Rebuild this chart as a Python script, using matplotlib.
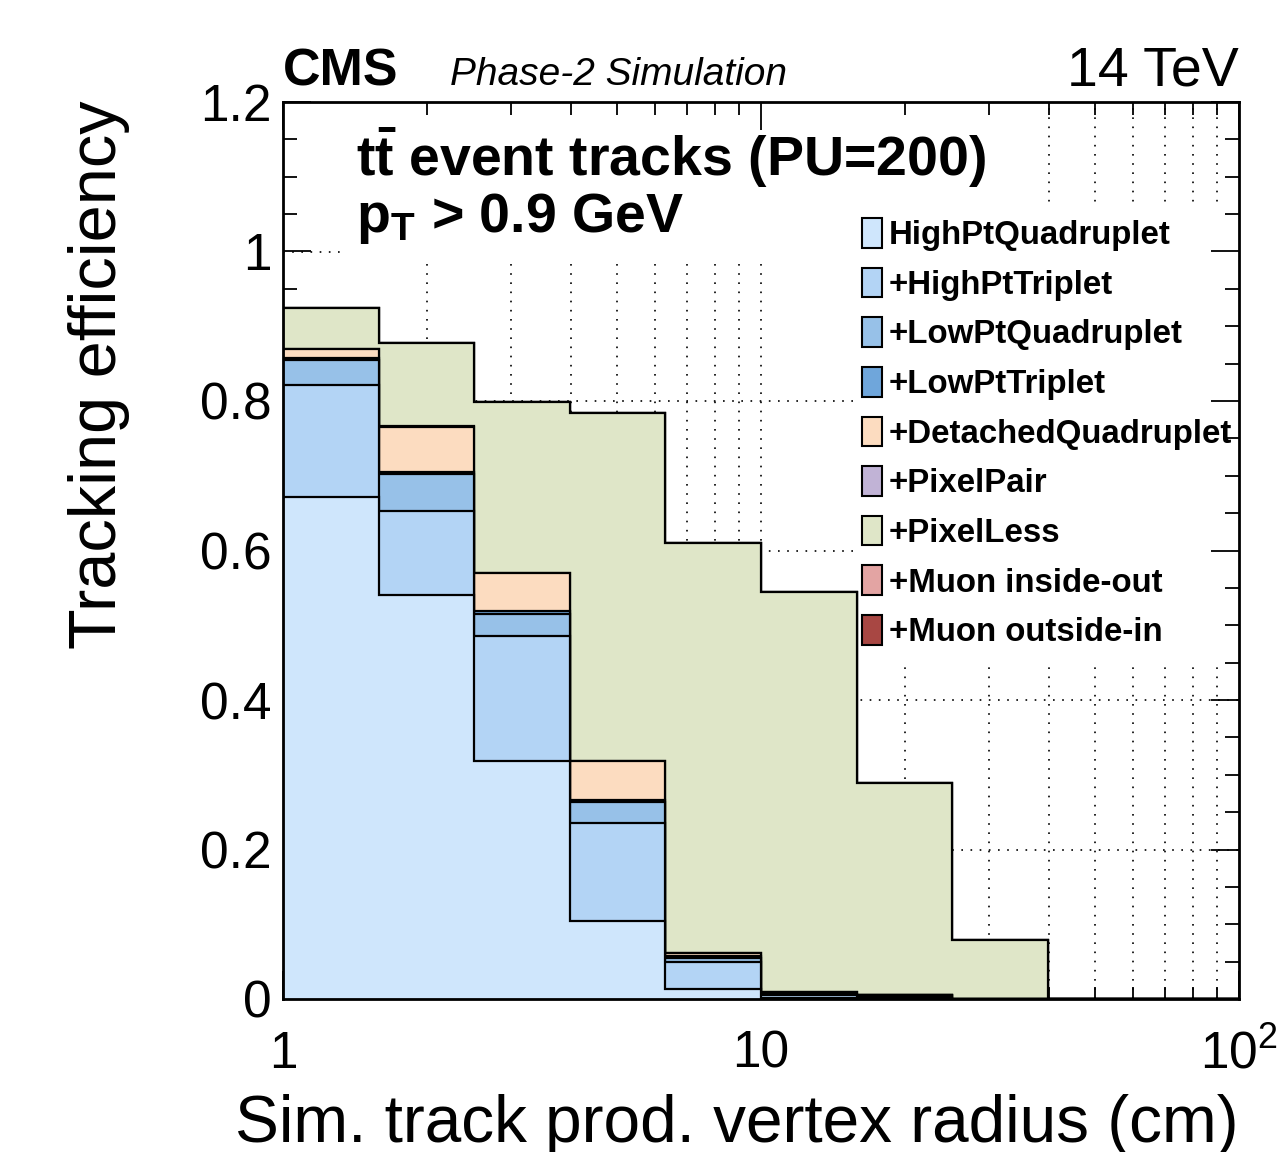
"""Stacked tracking efficiency per iteration vs. sim-track production vertex radius."""

import matplotlib

matplotlib.use("Agg")
import matplotlib.pyplot as plt
from matplotlib.patches import Patch, Rectangle
from matplotlib.ticker import FixedLocator, FixedFormatter, MultipleLocator

plt.rcParams["font.family"] = ["Liberation Sans", "DejaVu Sans"]
plt.rcParams["mathtext.fontset"] = "custom"
plt.rcParams["mathtext.rm"] = "Liberation Sans"
plt.rcParams["mathtext.it"] = "Liberation Sans:italic"
plt.rcParams["mathtext.bf"] = "Liberation Sans:bold"

# bin edges (cm), log-spaced
EDGES = [1.0, 1.585, 2.512, 3.981, 6.310, 10.0, 15.85, 25.12, 39.81, 63.10, 100.0]

# cumulative efficiency after each iteration
HIGHPT_QUAD = [0.672, 0.540, 0.318, 0.105, 0.014, 0.002, 0.001, 0.0, 0.0, 0.0]
HIGHPT_TRIP = [0.821, 0.653, 0.486, 0.235, 0.0495, 0.005, 0.004, 0.0, 0.0, 0.0]
LOWPT_QUAD = [0.855, 0.703, 0.5155, 0.2635, 0.055, 0.006, 0.005, 0.0, 0.0, 0.0]
LOWPT_TRIP = [0.857, 0.705, 0.519, 0.266, 0.057, 0.007, 0.005, 0.0, 0.0, 0.0]
DETACHED_QUAD = [0.869, 0.765, 0.5695, 0.318, 0.061, 0.009, 0.006, 0.0, 0.0, 0.0]
PIXEL_PAIR = [0.870, 0.766, 0.570, 0.319, 0.062, 0.009, 0.006, 0.0, 0.0, 0.0]
PIXEL_LESS = [0.924, 0.877, 0.799, 0.784, 0.610, 0.5445, 0.289, 0.079, 0.0, 0.0]
MUON_IO = [0.924, 0.877, 0.799, 0.784, 0.610, 0.5445, 0.289, 0.079, 0.0, 0.0]
MUON_OI = [0.924, 0.877, 0.799, 0.784, 0.610, 0.5445, 0.289, 0.079, 0.0, 0.0]

LABELS = [
    "HighPtQuadruplet",
    "+HighPtTriplet",
    "+LowPtQuadruplet",
    "+LowPtTriplet",
    "+DetachedQuadruplet",
    "+PixelPair",
    "+PixelLess",
    "+Muon inside-out",
    "+Muon outside-in",
]
SERIES = [HIGHPT_QUAD, HIGHPT_TRIP, LOWPT_QUAD, LOWPT_TRIP, DETACHED_QUAD,
          PIXEL_PAIR, PIXEL_LESS, MUON_IO, MUON_OI]
COLORS = ["#cfe6fc", "#b3d4f5", "#97c1e8", "#6fa6db", "#fcdcc0",
          "#c1b3d6", "#dfe6c8", "#e3a4a3", "#a84743"]

X_TICKS = [1, 10, 100]
X_TICKLABELS = ["1", "10", "10$^{2}$"]

W, H = 1279, 1152
fig = plt.figure(figsize=(W / 100, H / 100), dpi=100)
L, R, T, B = 283, 1239, 102, 999
ax = fig.add_axes([L / W, 1 - B / H, (R - L) / W, (B - T) / H])

ax.set_xscale("log")
ax.set_xlim(1, 100)
ax.set_ylim(0, 1.2)


def px_box(x0, y0, x1, y1):
    """white box given in figure pixels, mapped to axes fraction"""
    return Rectangle(((x0 - L) / (R - L), (B - y1) / (B - T)),
                     (x1 - x0) / (R - L), (y1 - y0) / (B - T),
                     transform=ax.transAxes, facecolor="white", edgecolor="none",
                     zorder=1)


# dotted grid behind the histograms
xgrid = [2, 3, 4, 5, 6, 7, 8, 9, 10, 20, 30, 40, 50, 60, 70, 80, 90]
ygrid = [0.2, 0.4, 0.6, 0.8, 1.0]
ax.vlines(xgrid, 0, 1.2, colors="black", linestyles=(0, (1, 4.5)), lw=1.2, zorder=0)
ax.hlines(ygrid, 1, 100, colors="black", linestyles=(0, (1, 4.5)), lw=1.2, zorder=0)

# white backgrounds of the text block and the legend
ax.add_patch(px_box(345, 103, 1048, 258))
ax.add_patch(px_box(858, 208, 1238, 660))

# stack: draw largest cumulative first
for i in reversed(range(len(SERIES))):
    ax.stairs(SERIES[i], EDGES, baseline=0, fill=True, facecolor=COLORS[i],
              edgecolor="black", linewidth=1.6, zorder=2)

for s in ax.spines.values():
    s.set_linewidth(2)
    s.set_zorder(5)

ax.xaxis.set_major_locator(FixedLocator(X_TICKS))
ax.xaxis.set_major_formatter(FixedFormatter(X_TICKLABELS))
ax.yaxis.set_major_locator(MultipleLocator(0.2))
ax.yaxis.set_minor_locator(MultipleLocator(0.05))
ax.yaxis.set_major_formatter(plt.FuncFormatter(lambda v, p: f"{v:g}"))
ax.tick_params(which="both", direction="in", top=True, right=True, width=1.3, zorder=6)
ax.tick_params(axis="y", which="major", length=20, labelsize=37, pad=8)
ax.tick_params(axis="y", which="minor", length=10)
ax.tick_params(axis="x", which="major", length=20, labelsize=37, pad=22)
ax.tick_params(axis="x", which="minor", length=9)
ax.xaxis.set_minor_formatter(plt.NullFormatter())

fig.text(R / W, 1 - 1142 / H, "Sim. track prod. vertex radius (cm)", fontsize=47.3,
         ha="right", va="baseline")
fig.text(68 / W, 1 - 100 / H, "Tracking efficiency", fontsize=48, rotation=90,
         ha="left", va="top")

fig.text(L / W, 1 - 85 / H, "CMS", fontsize=37.5, fontweight="bold", va="baseline")
fig.text(450 / W, 1 - 85 / H, "Phase-2 Simulation", fontsize=28, style="italic",
         va="baseline")
fig.text(R / W, 1 - 85 / H, "14 TeV", fontsize=40, ha="right", va="baseline")

fig.text(356 / W, 1 - 176 / H, r"$\mathbf{t\bar{t}}$ event tracks (PU=200)",
         fontsize=40, fontweight="bold", va="baseline")
fig.text(356 / W, 1 - 232 / H, r"p$_{\mathbf{T}}$ > 0.9 GeV",
         fontsize=40, fontweight="bold", va="baseline")

handles = [Patch(facecolor=c, edgecolor="black", linewidth=1.5) for c in COLORS]
leg = ax.legend(handles, LABELS, loc="upper left",
                bbox_to_anchor=((862 - L) / (R - L), (B - 218) / (B - T)),
                frameon=False, borderpad=0, borderaxespad=0,
                prop={"size": 23.8, "weight": "bold"},
                handlelength=0.62, handleheight=1.0, handletextpad=0.2,
                labelspacing=0.5)
leg.set_zorder(7)

fig.savefig("out.png", dpi=100)
